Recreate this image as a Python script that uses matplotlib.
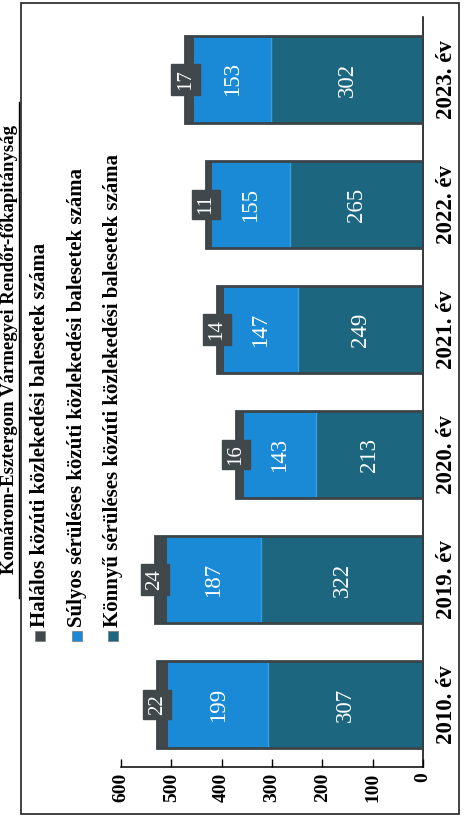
import matplotlib
matplotlib.use("Agg")
import matplotlib.pyplot as plt
from matplotlib.patches import Rectangle
from matplotlib.lines import Line2D
import numpy as np

plt.rcParams["font.family"] = ["Liberation Serif", "DejaVu Serif"]

# data
years = ["2010. év", "2019. év", "2020. év", "2021. év", "2022. év", "2023. év"]
halalos = [22, 24, 16, 14, 11, 17]
sulyos = [199, 187, 143, 147, 155, 153]
konnyu = [307, 322, 213, 249, 265, 302]
value_ticks = [0, 100, 200, 300, 400, 500, 600]
series_names = [
    "Halálos közúti közlekedési balesetek száma",
    "Súlyos sérüléses közúti közlekedési balesetek száma",
    "Könnyű sérüléses közúti közlekedési balesetek száma",
]
title = "Komárom-Esztergom Vármegyei Rendőr-főkapitányság"

c_gray = "#41484b"
c_blue = "#1a89d6"
c_teal = "#1c6680"
c_edge = "#3c4447"

W, H = 466, 825
fig = plt.figure(figsize=(W / 100, H / 100), dpi=100)
fig.patch.set_facecolor("white")


def fx(px):
    return px / W


def fy(py):
    return (H - py) / H


# axes: value axis runs right -> left, categories bottom -> top
ax = fig.add_axes([fx(121), fy(767), fx(423) - fx(121), fy(17) - fy(767)])

pos = np.arange(len(years))
hgt = 0.69
k = np.array(konnyu)
s = np.array(sulyos)
h = np.array(halalos)

ax.barh(pos, k, height=hgt, color=c_teal, linewidth=0, zorder=2)
ax.barh(pos, s, left=k, height=hgt, color=c_blue, linewidth=0, zorder=2)
ax.barh(pos, h, left=k + s, height=hgt, color=c_gray, linewidth=0, zorder=2)
# light seam between blue and teal
for p, kv in zip(pos, k):
    ax.plot([kv, kv], [p - hgt / 2, p + hgt / 2], color="#3a9fe0", lw=1.0, zorder=3)
# dark outline round each bar
ax.barh(pos, k + s + h, height=hgt, fill=False, edgecolor=c_edge, linewidth=2.0, zorder=4)

# value labels
for p, kv, sv, hv in zip(pos, k, s, h):
    ax.text(kv / 2, p, str(kv), rotation=90, ha="center", va="center",
            color="white", fontsize=16.5, zorder=5)
    ax.text(kv + sv / 2, p, str(sv), rotation=90, ha="center", va="center",
            color="white", fontsize=16.5, zorder=5)
    ax.text(kv + sv + hv, p, str(hv), rotation=90, ha="center", va="center",
            color="white", fontsize=15, zorder=6,
            bbox=dict(boxstyle="square,pad=0.22", facecolor=c_gray, edgecolor=c_gray))

ax.set_xlim(600, 0)
ax.set_ylim(-0.5, len(years) - 0.5)
ax.set_xticks(value_ticks)
ax.set_xticklabels([str(v) for v in value_ticks], rotation=90, fontsize=14,
                   fontweight="bold", va="top", ha="center")
ax.tick_params(axis="x", direction="in", length=6, width=1, pad=4)

ax.yaxis.tick_right()
ax.set_yticks(pos)
ax.set_yticklabels(years, rotation=90, va="center", fontsize=16.5, fontweight="bold")
ax.tick_params(axis="y", length=0, pad=9)

for sp in ["top", "left"]:
    ax.spines[sp].set_visible(False)
for sp in ["bottom", "right"]:
    ax.spines[sp].set_linewidth(1.1)
ax.set_facecolor("none")

# legend, drawn rotated like the scan
leg_x = [40, 77, 113]
leg_cols = [c_gray, c_blue, c_teal]
for x, col, name in zip(leg_x, leg_cols, series_names):
    fig.patches.append(Rectangle((fx(x - 5), fy(641)), fx(10), fy(631) - fy(641),
                                 transform=fig.transFigure, facecolor=col,
                                 edgecolor="#777777", linewidth=0.5))
    fig.text(fx(x), fy(627), name, rotation=90, ha="center", va="bottom",
             fontsize=15, fontweight="bold")

# title at the left edge, underlined
fig.text(fx(1), fy(350), title, rotation=90, ha="left", va="center",
         fontsize=13.5, fontweight="bold")
fig.lines.append(Line2D([fx(19), fx(19)], [fy(598), fy(102)],
                        transform=fig.transFigure, color="black", lw=1.0))

# outer frame
fig.patches.append(Rectangle((fx(21), fy(814)), fx(459) - fx(21), fy(3) - fy(814),
                             transform=fig.transFigure, fill=False,
                             edgecolor="#222222", linewidth=1.2))

fig.savefig("out.png", dpi=100)
